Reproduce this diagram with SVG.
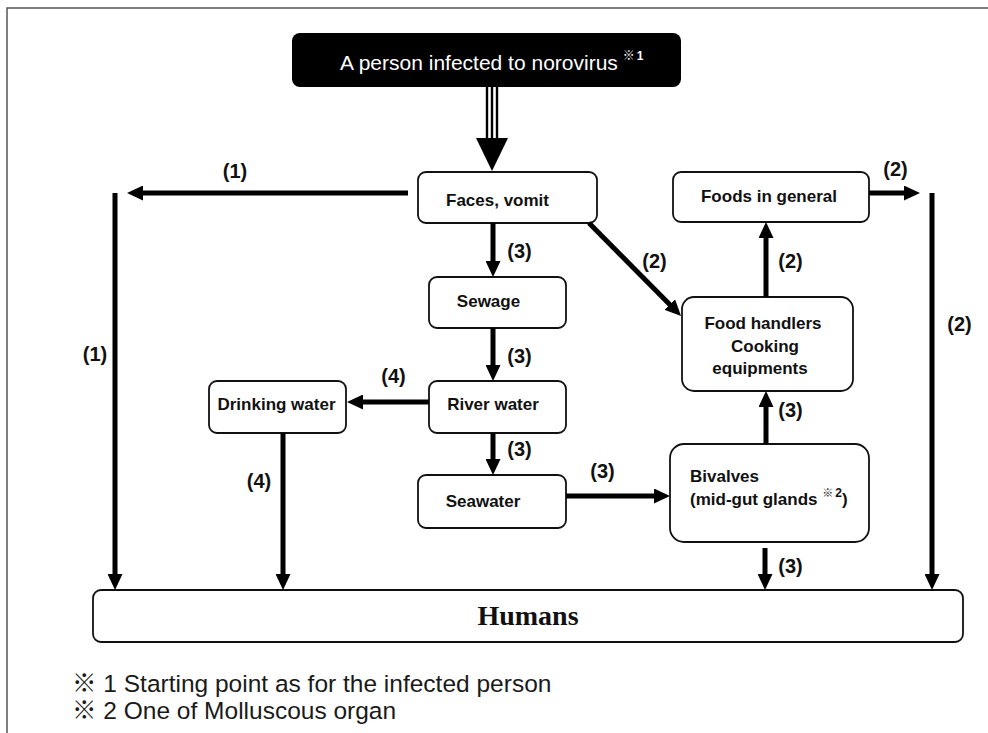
<svg xmlns="http://www.w3.org/2000/svg" width="988" height="733" viewBox="0 0 988 733">
<defs>
<style>
.box{fill:#fff;stroke:#111;stroke-width:1.8}
.lbl{font-family:"Liberation Sans","Noto Sans CJK JP",Arial,sans-serif;font-weight:bold;font-size:17px;fill:#111}
.num{font-family:"Liberation Sans",Arial,sans-serif;font-weight:bold;font-size:20px;fill:#111;text-anchor:middle}
.conn{stroke:#000;stroke-width:5;fill:none;marker-end:url(#ah)}
.note{font-family:"Liberation Sans","Noto Sans CJK JP",Arial,sans-serif;font-size:24.5px;fill:#1a1a1a}
</style>
<marker id="ah" markerUnits="userSpaceOnUse" markerWidth="16" markerHeight="15" refX="8" refY="7.5" orient="auto">
<path d="M0,0 L16,7.5 L0,15 Z" fill="#000"/>
</marker>
</defs>
<rect width="988" height="733" fill="#fff"/>
<path d="M7,733 V8 H988" fill="none" stroke="#555" stroke-width="1.5"/>

<g id="title">
<rect x="292" y="33" width="389" height="54" rx="8" fill="#000"/>
<text x="340" y="70" font-family="Liberation Sans,Arial,sans-serif" font-size="21" fill="#fff">A person infected to norovirus<tspan font-family="Noto Sans CJK JP,sans-serif" font-size="12" font-weight="bold" dx="5" dy="-10">※</tspan><tspan font-size="12" font-weight="bold" dx="2">1</tspan></text>
</g>

<g id="faces">
<rect class="box" x="418" y="172" width="179" height="51" rx="8"/>
<text class="lbl" x="497.5" y="206" text-anchor="middle">Faces, vomit</text>
</g>
<g id="sewage">
<rect class="box" x="429" y="277" width="137" height="51" rx="8"/>
<text class="lbl" x="488.5" y="307" text-anchor="middle">Sewage</text>
</g>
<g id="river">
<rect class="box" x="429" y="381" width="137" height="52" rx="8"/>
<text class="lbl" x="493" y="410" text-anchor="middle">River water</text>
</g>
<g id="drinking">
<rect class="box" x="209" y="381" width="137" height="52" rx="8"/>
<text class="lbl" x="276.5" y="410" text-anchor="middle">Drinking water</text>
</g>
<g id="seawater">
<rect class="box" x="418" y="475" width="148" height="53" rx="8"/>
<text class="lbl" x="483" y="507" text-anchor="middle">Seawater</text>
</g>
<g id="foods">
<rect class="box" x="673" y="172" width="196" height="50" rx="8"/>
<text class="lbl" x="769" y="202" text-anchor="middle">Foods in general</text>
</g>
<g id="handlers">
<rect class="box" x="682" y="297" width="171" height="94" rx="12"/>
<text class="lbl" x="763" y="329" text-anchor="middle">Food handlers</text>
<text class="lbl" x="765" y="352" text-anchor="middle">Cooking</text>
<text class="lbl" x="760" y="374" text-anchor="middle">equipments</text>
</g>
<g id="bivalves">
<rect class="box" x="670" y="444" width="199" height="98" rx="14"/>
<text class="lbl" x="690" y="482">Bivalves</text>
<text class="lbl" x="690" y="505">(mid-gut glands <tspan font-size="11" dy="-8" font-family="Noto Sans CJK JP,sans-serif">※</tspan><tspan font-size="12" dx="2">2</tspan><tspan dy="8">)</tspan></text>
</g>
<g id="humans">
<rect class="box" x="93" y="590" width="870" height="52" rx="8"/>
<text x="528" y="625" text-anchor="middle" font-family="Liberation Serif,Times New Roman,serif" font-weight="bold" font-size="28" fill="#111">Humans</text>
</g>

<g id="connectors">
<g stroke="#000" stroke-width="2.4">
<line x1="487" y1="87" x2="487" y2="139"/>
<line x1="492" y1="87" x2="492" y2="139"/>
<line x1="497" y1="87" x2="497" y2="139"/>
</g>
<polygon points="476,138 508,138 492,171" fill="#000"/>
<path class="conn" d="M408,193 H135"/>
<path d="M115,193 V582" class="conn"/>
<path class="conn" d="M493,223 V269"/>
<path class="conn" d="M493,328 V373"/>
<path class="conn" d="M429,402 H355"/>
<path class="conn" d="M493,433 V467"/>
<path class="conn" d="M566,496 H662"/>
<path class="conn" d="M283,433 V582"/>
<path class="conn" d="M589,223 L675.4,310.3"/>
<path class="conn" d="M766,297 V230"/>
<path class="conn" d="M869,193 H912"/>
<path class="conn" d="M932,193 V582"/>
<path class="conn" d="M766,444 V399"/>
<path class="conn" d="M765,548 V582"/>
<text class="num" x="235" y="178">(1)</text>
<text class="num" x="95" y="361">(1)</text>
<text class="num" x="519.5" y="258">(3)</text>
<text class="num" x="519.5" y="363">(3)</text>
<text class="num" x="393.5" y="383">(4)</text>
<text class="num" x="519.5" y="456">(3)</text>
<text class="num" x="259" y="488">(4)</text>
<text class="num" x="602.5" y="478">(3)</text>
<text class="num" x="654.5" y="268">(2)</text>
<text class="num" x="790.5" y="268">(2)</text>
<text class="num" x="895.5" y="176">(2)</text>
<text class="num" x="959.5" y="331">(2)</text>
<text class="num" x="790.5" y="417">(3)</text>
<text class="num" x="790.5" y="573">(3)</text>
</g>

<g id="notes">
<text class="note" x="72" y="692">※ 1 Starting point as for the infected person</text>
<text class="note" x="72" y="719">※ 2 One of Molluscous organ</text>
</g>
</svg>
